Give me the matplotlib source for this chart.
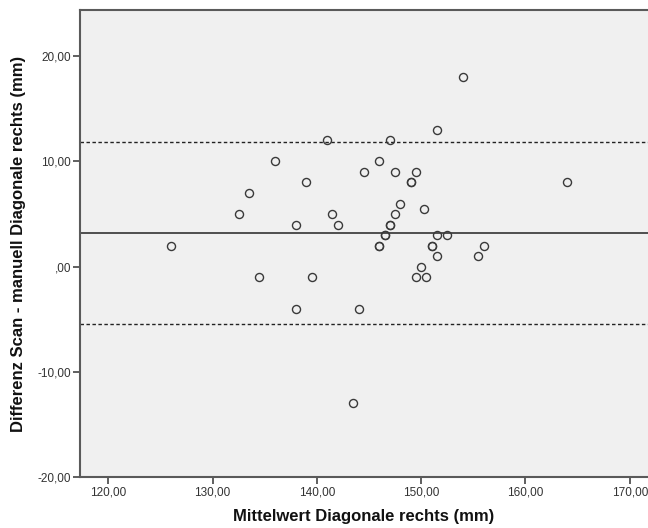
import matplotlib
matplotlib.use("Agg")
import matplotlib.pyplot as plt
from matplotlib.ticker import FuncFormatter

plt.rcParams['font.family'] = ['Liberation Sans', 'DejaVu Sans']

# Mittelwert und Differenz je Fall (Diagonale rechts, mm)
mittelwert = [126.0, 132.5, 133.5, 134.5, 136.0, 138.0, 138.0, 139.0, 139.5,
              141.0, 141.5, 142.0, 143.5, 144.0, 144.5, 146.0, 146.0, 146.0,
              146.5, 146.5, 147.0, 147.0, 147.0, 147.5, 147.5, 148.0, 149.0,
              149.0, 149.5, 149.5, 150.0, 150.3, 150.5, 151.0, 151.0, 151.5,
              151.5, 151.5, 152.5, 154.0, 155.5, 156.0, 164.0]
differenz = [2.0, 5.0, 7.0, -1.0, 10.0, 4.0, -4.0, 8.0, -1.0,
             12.0, 5.0, 4.0, -13.0, -4.0, 9.0, 10.0, 2.0, 2.0,
             3.0, 3.0, 4.0, 4.0, 12.0, 9.0, 5.0, 6.0, 8.0,
             8.0, 9.0, -1.0, 0.0, 5.5, -1.0, 2.0, 2.0, 13.0,
             3.0, 1.0, 3.0, 18.0, 1.0, 2.0, 8.0]

mittel_diff = 3.22
obere_grenze = 11.87
untere_grenze = -5.43

x_ticks = [120, 130, 140, 150, 160, 170]
y_ticks = [-20, -10, 0, 10, 20]


def komma(v, pos):
    s = "%.2f" % v
    s = s.replace(".", ",")
    if s.startswith("0,"):
        s = s[1:]
    return s


fig = plt.figure(figsize=(6.48, 5.28), dpi=100)
ax = fig.add_axes([0.1235, 0.0966, 0.8765, 0.8845])
ax.set_facecolor('#f0f0f0')

ax.axhline(mittel_diff, color='#222222', lw=1.1, zorder=2)
ax.axhline(obere_grenze, color='#222222', lw=1.0, ls=(0, (2.5, 1.8)), zorder=2)
ax.axhline(untere_grenze, color='#222222', lw=1.0, ls=(0, (2.5, 1.8)), zorder=2)

ax.plot(mittelwert, differenz, 'o', ms=5.8, mfc='none', mec='#3a3a3a',
        mew=1.0, zorder=3)

ax.set_xlim(117.3, 171.75)
ax.set_ylim(-20, 24.4)
ax.set_xticks(x_ticks)
ax.set_yticks(y_ticks)
ax.xaxis.set_major_formatter(FuncFormatter(komma))
ax.yaxis.set_major_formatter(FuncFormatter(komma))

for side in ['left', 'top', 'bottom']:
    ax.spines[side].set_color('#5a5a5a')
    ax.spines[side].set_linewidth(1.5)
ax.spines['right'].set_visible(False)

ax.tick_params(axis='both', direction='out', length=5, width=1.2,
               color='#444444', labelsize=8.5, labelcolor='#333333', pad=1.5)

ax.set_xlabel('Mittelwert Diagonale rechts (mm)', fontsize=12,
              fontweight='bold', color='#111111', labelpad=8)
ax.set_ylabel('Differenz Scan - manuell Diagonale rechts (mm)', fontsize=12,
              fontweight='bold', color='#111111', labelpad=8)

fig.savefig('out.png', dpi=100)
